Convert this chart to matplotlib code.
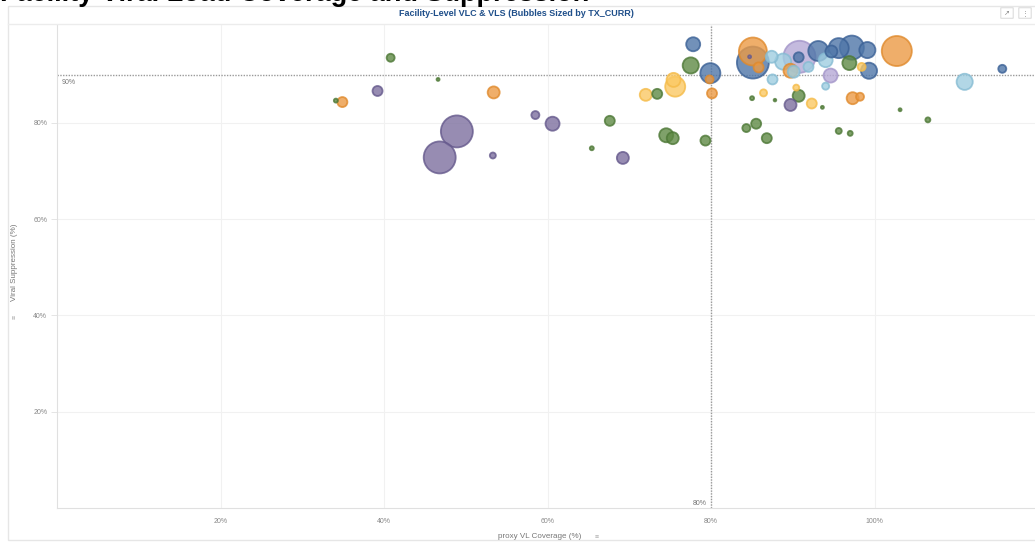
import matplotlib.pyplot as plt
from matplotlib.patches import Rectangle, FancyBboxPatch
from matplotlib.lines import Line2D

plt.rcParams['font.family'] = ['Liberation Sans', 'DejaVu Sans']

# facility data
vlc = [40.8, 39.2, 34.1, 34.9, 46.6, 53.4, 48.9, 46.8, 53.3, 58.5,
       60.6, 67.6, 65.4, 69.2, 72.0, 73.4, 75.6, 75.4, 74.5, 75.3,
       77.5, 77.8, 79.9, 79.8, 80.1, 79.3, 85.1, 85.1, 84.7, 85.8,
       87.4, 88.8, 87.5, 90.8, 90.7, 89.7, 90.1, 91.9, 90.4, 86.4,
       85.0, 87.8, 90.7, 89.7, 92.3, 93.6, 93.1, 94.7, 94.0, 95.6,
       97.2, 99.1, 96.9, 98.4, 99.3, 94.6, 94.0, 97.3, 98.2, 103.1,
       106.5, 102.7, 111.0, 115.6, 95.6, 97.0, 84.3, 85.5, 86.8]
vls = [93.5, 86.6, 84.6, 84.3, 89.0, 86.3, 78.2, 72.8, 73.2, 81.6,
       79.8, 80.4, 74.7, 72.7, 85.8, 86.0, 87.5, 88.9, 77.4, 76.8,
       91.9, 96.3, 90.3, 89.0, 86.1, 76.3, 92.5, 94.8, 93.7, 91.5,
       93.7, 92.7, 89.0, 93.7, 93.6, 90.8, 90.6, 91.6, 87.3, 86.2,
       85.1, 84.7, 85.6, 83.7, 84.0, 83.2, 94.9, 94.8, 93.0, 95.5,
       95.6, 95.1, 92.4, 91.6, 90.8, 89.8, 87.6, 85.1, 85.4, 82.7,
       80.6, 94.9, 88.5, 91.2, 78.3, 77.8, 78.9, 79.8, 76.8]
tx_curr = [320, 500, 80, 500, 45, 720, 5100, 5100, 180, 320,
           980, 500, 80, 720, 720, 500, 2000, 980, 980, 720,
           1300, 980, 2000, 320, 500, 500, 5100, 3900, 45, 500,
           720, 1300, 500, 5100, 500, 980, 720, 500, 180, 250,
           80, 35, 720, 720, 500, 45, 2000, 720, 980, 2000,
           2900, 1300, 980, 320, 1300, 980, 250, 720, 320, 45,
           125, 4500, 1300, 320, 180, 125, 320, 500, 500]
group = ['G', 'P', 'G', 'O', 'G', 'O', 'P', 'P', 'P', 'P',
         'P', 'G', 'G', 'P', 'Y', 'G', 'Y', 'Y', 'G', 'G',
         'G', 'B', 'B', 'O', 'O', 'G', 'B', 'O', 'P', 'O',
         'L', 'L', 'L', 'V', 'B', 'O', 'L', 'L', 'Y', 'Y',
         'G', 'G', 'G', 'P', 'Y', 'G', 'B', 'B', 'L', 'B',
         'B', 'B', 'G', 'Y', 'B', 'V', 'L', 'O', 'O', 'G',
         'G', 'O', 'L', 'B', 'G', 'G', 'G', 'G', 'G']

x_ticks = [20, 40, 60, 80, 100]
y_ticks = [20, 40, 60, 80]
vlc_target = 80
vls_target = 90

face = {'B': '#4f76a8', 'O': '#eb9a45', 'L': '#9fcde0', 'P': '#7d709f',
        'V': '#b6a9d6', 'G': '#5f8a45', 'Y': '#fbc964'}
edge = {'B': '#3b6196', 'O': '#e08a2c', 'L': '#86bcd3', 'P': '#65598c',
        'V': '#a395c9', 'G': '#4d7836', 'Y': '#f5bb48'}

fig = plt.figure(figsize=(10.35, 5.43), dpi=100)

# panel frame and header
fig.patches.append(Rectangle((8 / 1035, 3 / 543), 1.2, 1 - 9 / 543, transform=fig.transFigure,
                             fill=False, edgecolor='#e6e6e6', linewidth=1))
fig.lines.append(Line2D([8 / 1035, 1], [1 - 24 / 543, 1 - 24 / 543], transform=fig.transFigure,
                        color='#ececec', linewidth=1))
# page title, scrolled mostly out of view as in the screenshot
fig.text(0.0, 1 - 1 / 543, 'Facility Viral Load Coverage and Suppression', fontsize=19.5,
         fontweight='bold', color='black', ha='left', va='baseline')
fig.text(516 / 1035, 1 - 13 / 543, 'Facility-Level VLC & VLS (Bubbles Sized by TX_CURR)',
         fontsize=6.5, fontweight='bold', color='#1f4f8a', ha='center', va='center')
for px, sym in [(1007, '\u2197'), (1025, '\u22ee')]:
    fig.patches.append(FancyBboxPatch((px / 1035 - 0.0055, 1 - 18 / 543), 0.011, 10 / 543,
                                      boxstyle='round,pad=0.0005', transform=fig.transFigure,
                                      facecolor='white', edgecolor='#dddddd', linewidth=0.8))
    fig.text(px / 1035, 1 - 13 / 543, sym, fontsize=5, color='#888888',
             ha='center', va='center', family=['DejaVu Sans'])

ax = fig.add_axes([57 / 1035, 1 - 508 / 543, 1 - 57 / 1035, (508 - 25) / 543])
ax.set_xlim(0, 119.6)
ax.set_ylim(0, 100.3)

order = sorted(range(len(vlc)), key=lambda i: -tx_curr[i])
ax.scatter([vlc[i] for i in order], [vls[i] for i in order],
           s=[tx_curr[i] * 0.104 for i in order],
           c=[face[group[i]] for i in order],
           edgecolors=[edge[group[i]] for i in order],
           linewidths=1.3, alpha=0.8, zorder=3)

ax.axhline(vls_target, color='#9a9a9a', linewidth=1, linestyle=(0, (1, 1)), zorder=2)
ax.axvline(vlc_target, color='#9a9a9a', linewidth=1, linestyle=(0, (1, 1)), zorder=2)
ax.text(0.6, vls_target - 1.6, f'{vls_target}%', fontsize=5, color='#777777',
        ha='left', va='center')
ax.text(vlc_target - 0.6, 1.0, f'{vlc_target}%', fontsize=5, color='#777777',
        ha='right', va='center')

ax.set_xticks(x_ticks)
ax.set_xticklabels([f'{t}%' for t in x_ticks])
ax.set_yticks(y_ticks)
ax.set_yticklabels([f'{t}%' for t in y_ticks])
ax.tick_params(axis='x', length=0, pad=7, labelsize=5, labelcolor='#888888')
ax.tick_params(axis='y', length=4, width=0.6, color='#e0e0e0', pad=3,
               labelsize=5, labelcolor='#888888')
ax.grid(True, color='#f1f1f1', linewidth=0.8, zorder=0)
ax.set_axisbelow(True)
for side in ['top', 'right']:
    ax.spines[side].set_visible(False)
for side in ['left', 'bottom']:
    ax.spines[side].set_color('#e0e0e0')
    ax.spines[side].set_linewidth(0.8)

fig.text(540 / 1035, 1 - 537 / 543, 'proxy VL Coverage (%)', fontsize=5.8, color='#777777',
         ha='center', va='center')
fig.text(597 / 1035, 1 - 537 / 543, '\u2261', fontsize=5, color='#aaaaaa',
         ha='center', va='center')
fig.text(15 / 1035, 1 - 262 / 543, 'Viral Suppression (%)', fontsize=5.8, color='#777777',
         ha='center', va='center', rotation=90)
fig.text(15 / 1035, 1 - 317 / 543, '\u2261', fontsize=5, color='#aaaaaa',
         ha='center', va='center', rotation=90)

fig.savefig('out.png', dpi=100)
